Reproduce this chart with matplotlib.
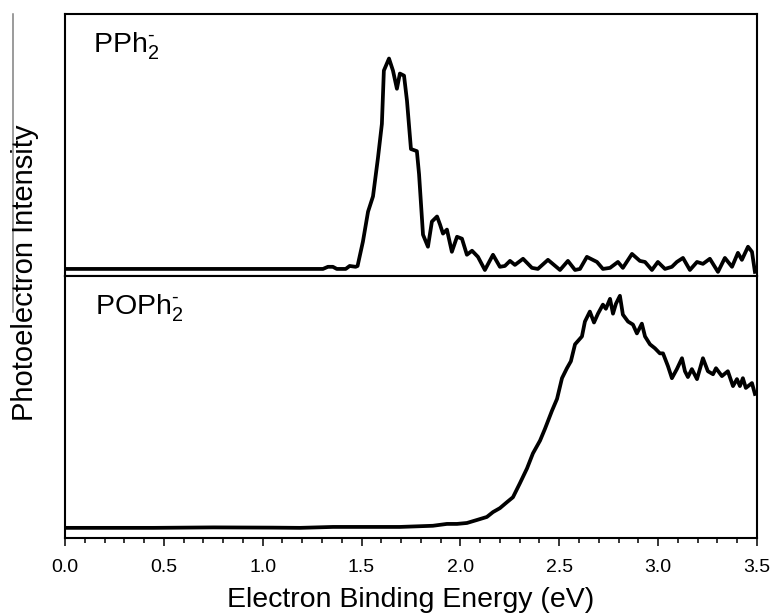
import numpy as np
import matplotlib
matplotlib.use('Agg')
import matplotlib.pyplot as plt
from matplotlib.ticker import MultipleLocator
from matplotlib.lines import Line2D

plt.rcParams['font.family'] = ['Liberation Sans', 'DejaVu Sans']
plt.rcParams['mathtext.fontset'] = 'custom'
plt.rcParams['mathtext.rm'] = 'Liberation Sans'
plt.rcParams['mathtext.it'] = 'Liberation Sans:italic'

# PPh2- spectrum (eV, normalised intensity)
pph_e = [0.0, 1.19, 1.305, 1.33, 1.355, 1.375, 1.42, 1.44, 1.47, 1.48,
         1.507, 1.533, 1.558, 1.583, 1.603, 1.613, 1.639, 1.659, 1.679, 1.694,
         1.715, 1.730, 1.750, 1.780, 1.791, 1.811, 1.836, 1.856, 1.882, 1.897,
         1.912, 1.932, 1.957, 1.983, 2.008, 2.033, 2.059, 2.089, 2.124, 2.165,
         2.200, 2.225, 2.251, 2.276, 2.317, 2.362, 2.392, 2.443, 2.504, 2.544,
         2.580, 2.605, 2.640, 2.691, 2.721, 2.757, 2.797, 2.822, 2.868, 2.908,
         2.934, 2.969, 2.999, 3.035, 3.070, 3.095, 3.126, 3.161, 3.197, 3.227,
         3.262, 3.303, 3.338, 3.374, 3.404, 3.424, 3.455, 3.475, 3.49]
pph_i = [0.0, 0.0, 0.0, 0.01, 0.01, 0.0, 0.0, 0.014, 0.01, 0.014,
         0.129, 0.271, 0.343, 0.524, 0.686, 0.938, 0.995, 0.938, 0.852, 0.924,
         0.914, 0.795, 0.567, 0.557, 0.448, 0.162, 0.105, 0.224, 0.248, 0.21,
         0.167, 0.186, 0.081, 0.152, 0.143, 0.067, 0.086, 0.057, -0.005, 0.067,
         0.01, 0.014, 0.038, 0.019, 0.048, 0.005, 0.0, 0.043, -0.005, 0.038,
         -0.005, 0.0, 0.057, 0.033, 0.0, 0.005, 0.033, 0.005, 0.071, 0.038,
         0.033, -0.005, 0.033, 0.0, 0.01, 0.033, 0.052, -0.005, 0.033, 0.024,
         0.048, -0.014, 0.052, 0.01, 0.076, 0.043, 0.105, 0.081, -0.014]

# POPh2- spectrum
poph_e = [0.0, 0.45, 0.75, 1.05, 1.189, 1.356, 1.694, 1.861, 1.932, 1.983,
          2.033, 2.084, 2.134, 2.165, 2.200, 2.236, 2.266, 2.301, 2.337, 2.367,
          2.403, 2.428, 2.463, 2.489, 2.514, 2.539, 2.559, 2.580, 2.615, 2.630,
          2.655, 2.676, 2.696, 2.721, 2.736, 2.757, 2.772, 2.787, 2.807, 2.822,
          2.848, 2.873, 2.893, 2.918, 2.934, 2.959, 2.984, 3.009, 3.025, 3.050,
          3.070, 3.095, 3.121, 3.136, 3.151, 3.171, 3.197, 3.227, 3.252, 3.278,
          3.293, 3.323, 3.353, 3.379, 3.399, 3.414, 3.429, 3.444, 3.475, 3.490]
poph_i = [0.0, 0.0, 0.002, 0.001, 0.0, 0.004, 0.004, 0.009, 0.017, 0.017,
          0.021, 0.034, 0.047, 0.068, 0.085, 0.111, 0.132, 0.192, 0.256, 0.321,
          0.376, 0.427, 0.504, 0.556, 0.645, 0.688, 0.718, 0.791, 0.825, 0.889,
          0.932, 0.885, 0.923, 0.962, 0.944, 0.987, 0.923, 0.966, 1.0, 0.919,
          0.889, 0.876, 0.838, 0.880, 0.825, 0.791, 0.774, 0.752, 0.752, 0.697,
          0.645, 0.684, 0.731, 0.675, 0.650, 0.684, 0.641, 0.731, 0.675, 0.662,
          0.688, 0.654, 0.675, 0.611, 0.641, 0.611, 0.645, 0.603, 0.624, 0.577]

fig = plt.figure(figsize=(7.7, 6.16), dpi=100)
gs = fig.add_gridspec(2, 1, left=0.0844, right=0.983, top=0.977, bottom=0.127,
                      hspace=0)
ax1 = fig.add_subplot(gs[0])
ax2 = fig.add_subplot(gs[1], sharex=ax1)

ax1.plot(pph_e, pph_i, color='black', lw=2.7, solid_joinstyle='round')
ax2.plot(poph_e, poph_i, color='black', lw=2.7, solid_joinstyle='round')

ax1.set_ylim(-0.0333, 1.2048)
ax2.set_ylim(-0.0427, 1.0855)
ax2.set_xlim(0, 3.5)

for ax in (ax1, ax2):
    ax.set_yticks([])
    ax.xaxis.set_major_locator(MultipleLocator(0.5))
    ax.xaxis.set_minor_locator(MultipleLocator(0.1))
    ax.tick_params(axis='x', which='major', direction='out', length=6, width=1.1,
                   labelsize=14, pad=9)
    ax.tick_params(axis='x', which='minor', direction='out', length=3.6, width=1.1)
    for s in ax.spines.values():
        s.set_linewidth(1.5)

ax1.tick_params(axis='x', which='both', labelbottom=False)
ax2.xaxis.set_major_formatter(matplotlib.ticker.FormatStrFormatter('%.1f'))

ax1.text(0.040, 0.854, r'PPh$_2^{\text{-}}$', transform=ax1.transAxes,
         fontsize=20.5, va='baseline', ha='left')
ax2.text(0.043, 0.852, r'POPh$_2^{\text{-}}$', transform=ax2.transAxes,
         fontsize=20.5, va='baseline', ha='left')

ax2.set_xlabel('Electron Binding Energy (eV)', fontsize=20.5, labelpad=8)
fig.text(0.032, 0.558, 'Photoelectron Intensity', rotation=90, fontsize=21,
         ha='center', va='center')

# thin grey crop line left of the y label, as in the source image
fig.add_artist(Line2D([0.017, 0.017], [0.493, 0.977], color='#808080', lw=1.1,
                      transform=fig.transFigure))

fig.savefig('out.png', dpi=100)
